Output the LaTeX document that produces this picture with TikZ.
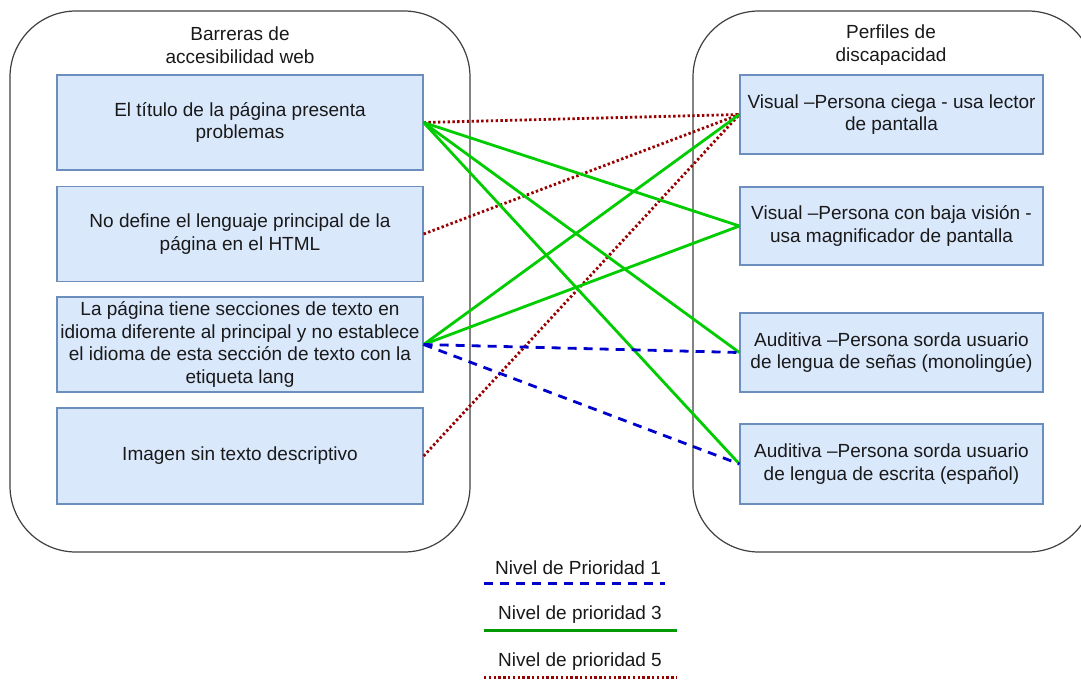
\documentclass[tikz,border=0pt]{standalone}
\usepackage{fontspec}
\setmainfont{Liberation Sans}
\definecolor{cajafondo}{HTML}{DAE8FC}
\definecolor{cajaborde}{HTML}{6C8EBF}
\definecolor{azulp}{HTML}{0000CC}
\definecolor{verdep}{HTML}{00CC00}
\definecolor{verdeley}{HTML}{009900}
\definecolor{rojop}{HTML}{990000}
\tikzset{
  texto/.style={font=\fontsize{19}{22.5}\selectfont, text=black!90, align=center},
  barrera/.style={texto, draw=cajaborde, fill=cajafondo, line width=1.2pt, minimum width=366pt, minimum height=95pt, inner sep=0pt},
  perfil/.style={texto, draw=cajaborde, fill=cajafondo, line width=1.2pt, minimum width=303pt, minimum height=79pt, inner sep=0pt},
  contenedor/.style={draw=black!75, line width=1.2pt, rounded corners=66pt},
  prio1/.style={azulp, line width=2.8pt, dash pattern=on 9pt off 7pt},
  prio3/.style={verdep, line width=2.8pt},
  prio5/.style={rojop, line width=2.8pt, dash pattern=on 2.4pt off 2.4pt}
}
\begin{document}
\begin{tikzpicture}[x=1pt, y=-1pt]
        \useasboundingbox (0,0) rectangle (1081,681);
        % contenedores
        \draw[contenedor] (10,11) rectangle (470,552);
        \draw[contenedor] (693,11) rectangle (1094,552);
        \node[texto] (tbarreras) at (240,45) {Barreras de\\accesibilidad web};
        \node[texto] (tperfiles) at (891,45) {Perfiles de\\discapacidad};

        % barreras
        \node[barrera] (l1) at (240,122.5) {El título de la página presenta\\problemas};
        \node[barrera] (l2) at (240,234) {No define el lenguaje principal de la\\página en el HTML};
        \node[barrera] (l3) at (240,344.5) {La página tiene secciones de texto en\\idioma diferente al principal y no establece\\el idioma de esta sección de texto con la\\etiqueta lang};
        \node[barrera, minimum height=96pt] (l4) at (240,456) {Imagen sin texto descriptivo};

        % perfiles
        \node[perfil] (r1) at (891.5,114.5) {Visual –Persona ciega - usa lector\\de pantalla};
        \node[perfil, minimum height=78pt] (r2) at (891.5,226) {Visual –Persona con baja visión -\\usa magnificador de pantalla};
        \node[perfil] (r3) at (891.5,352.5) {Auditiva –Persona sorda usuario\\de lengua de señas (monolingúe)};
        \node[perfil, minimum height=80pt] (r4) at (891.5,464) {Auditiva –Persona sorda usuario\\de lengua de escrita (español)};

        % relaciones
        \draw[prio5] (l1.east) -- (r1.west);
        \draw[prio5] (l2.east) -- (r1.west);
        \draw[prio5] (l4.east) -- (r1.west);
        \foreach \r in {r2,r3,r4}
        \draw[prio3] (l1.east) -- (\r.west);
        \foreach \r in {r1,r2}
        \draw[prio3] (l3.east) -- (\r.west);
        \foreach \r in {r3,r4}
        \draw[prio1] (l3.east) -- (\r.west);

        % leyenda
        \node[texto] (ley1) at (578,568) {Nivel de Prioridad 1};
        \node[texto] (ley3) at (580,615) {Nivel de prioridad 3};
        \node[texto] (ley5) at (580,662) {Nivel de prioridad 5};
        \coordinate (a1) at (484,583); \coordinate (b1) at (665,583);
        \coordinate (a3) at (484,630); \coordinate (b3) at (677,630);
        \coordinate (a5) at (484,677); \coordinate (b5) at (677,677);
        \draw[prio1, line width=3pt] (a1) -- (b1);
        \draw[prio3, verdeley, line width=3pt] (a3) -- (b3);
        \draw[prio5, line width=3pt] (a5) -- (b5);
\end{tikzpicture}
\end{document}
